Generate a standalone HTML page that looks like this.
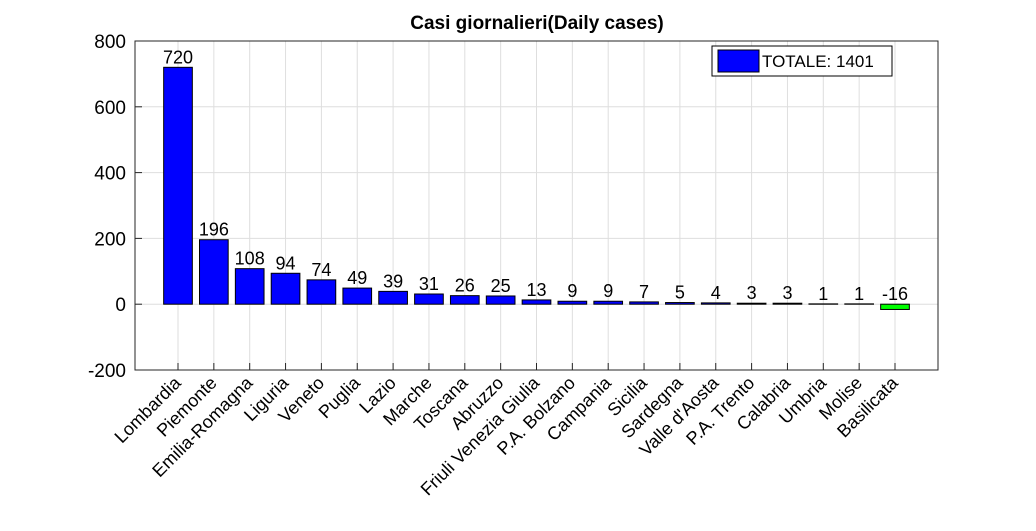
<!DOCTYPE html>
<html><head><meta charset="utf-8"><style>
body{margin:0;background:#fff}
svg{display:block;font-family:"Liberation Sans",Arial,sans-serif}
</style></head><body>
<svg id="chart" width="1036" height="531">
<rect width="1036" height="531" fill="#fff"/>
<text x="537" y="29" text-anchor="middle" font-size="19" font-weight="bold" fill="#000">Casi giornalieri(Daily cases)</text>
<g id="grid"></g><g id="bars"></g><g id="axes"></g>
<g>
<rect x="712" y="46" width="180" height="30" fill="#fff" stroke="#000" stroke-width="1"/>
<rect x="718" y="50" width="41" height="22" fill="#0000ff" stroke="#000"/>
<text x="762" y="67" font-size="17">TOTALE: 1401</text>
</g>
</svg>
<script>
const categories=["Lombardia","Piemonte","Emilia-Romagna","Liguria","Veneto","Puglia","Lazio","Marche","Toscana","Abruzzo","Friuli Venezia Giulia","P.A. Bolzano","Campania","Sicilia","Sardegna","Valle d'Aosta","P.A. Trento","Calabria","Umbria","Molise","Basilicata"];
const values=[720,196,108,94,74,49,39,31,26,25,13,9,9,7,5,4,3,3,1,1,-16];
const yTicks=[-200,0,200,400,600,800];
const L=135,R=938,T=41,B=370,yMin=-200,yMax=800;
const first=178,last=895;
const step=(last-first)/(categories.length-1);
const x=i=>first+step*i;
const y=v=>B-(v-yMin)/(yMax-yMin)*(B-T);
const NS="http://www.w3.org/2000/svg";
function mk(t,a,p){const e=document.createElementNS(NS,t);for(const k in a)e.setAttribute(k,a[k]);p.appendChild(e);return e;}
const g=document.getElementById('grid'),bg=document.getElementById('bars'),ax=document.getElementById('axes');
yTicks.forEach(v=>{
 const l=mk('line',{x1:L,x2:R,y1:y(v),y2:y(v),stroke:'#dedede','stroke-width':1},g);
 
 
 const t=mk('text',{x:L-9,y:y(v)+7,'text-anchor':'end','font-size':19},ax);t.textContent=v;
 
 
 mk('line',{x1:L,x2:L+7,y1:y(v),y2:y(v),stroke:'#262626'},ax);
});
categories.forEach((c,i)=>{
 const cx=x(i);
 const l=mk('line',{x1:cx,x2:cx,y1:T,y2:B,stroke:'#dedede','stroke-width':1},g);
 
 
 const v=values[i],w=step*0.8;
 const r=mk('rect',{x:cx-w/2,y:Math.min(y(v),y(0)),width:w,height:Math.abs(y(v)-y(0)),fill:v<0?'#00ff00':'#0000ff',stroke:'#000','stroke-width':1},bg);
 
 
 const vt=mk('text',{x:cx,y:(v<0?y(0):y(v))-4,'text-anchor':'middle','font-size':18},ax);vt.textContent=v;
 
 
 const tl=mk('text',{x:cx+4,y:B+14,'text-anchor':'end','font-size':18,transform:`rotate(-45 ${cx+4} ${B+14})`},ax);tl.textContent=c;
 
 
 mk('line',{x1:cx,x2:cx,y1:B,y2:B-7,stroke:'#262626'},ax);
});
const f=mk('rect',{x:L,y:T,width:R-L,height:B-T,fill:'none',stroke:'#262626','stroke-width':1},ax);


</script>
</body></html>
